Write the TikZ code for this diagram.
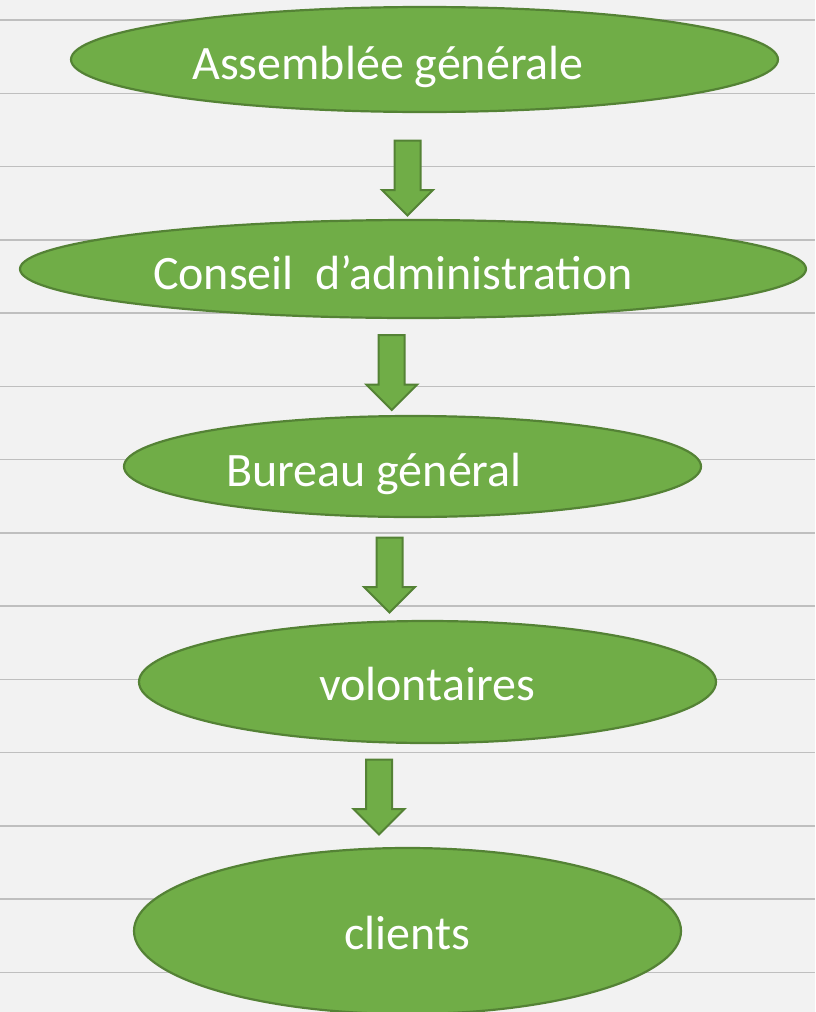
\documentclass[tikz,border=0pt]{standalone}
\usepackage{fontspec}
\setmainfont{Carlito}
\usepackage{tikz}
\usetikzlibrary{shapes.geometric, shapes.arrows}
\usepackage{color,xcolor}
\definecolor{vert}{HTML}{70AD47}
\definecolor{vertfonce}{HTML}{548235}
\definecolor{fond}{HTML}{F2F2F2}
\definecolor{trait}{HTML}{BFBFBF}

\begin{document}
\begin{tikzpicture}[x=1pt,y=-1pt,
    bulle/.style={ellipse, draw=vertfonce, fill=vert, line width=2.2pt, inner sep=0pt},
    texte/.style={text=white, anchor=base, font=\fontsize{48}{57}\selectfont, inner sep=0pt},
    fleche/.style={single arrow, draw=vertfonce, fill=vert, line width=2pt, rotate=-90,
        inner xsep=0pt, inner ysep=12pt, single arrow head extend=12.5pt, minimum height=75pt}]
    \useasboundingbox (0,0) rectangle (815,1012);
    \clip (0,0) rectangle (815,1012);
    \fill[fond] (0,0) rectangle (815,1012);
    % lignes du fond
    \foreach \k in {0,...,13}
        \draw[trait, line width=1.5pt] (0,{20+73.25*\k}) -- (815,{20+73.25*\k});
    % ellipses
    \node[bulle, minimum width=707pt, minimum height=105pt] (ag) at (424.5,59.5) {};
    \node[bulle, minimum width=786pt, minimum height=98pt] (ca) at (413,269) {};
    \node[bulle, minimum width=577pt, minimum height=101pt] (bg) at (412.5,466.5) {};
    \node[bulle, minimum width=577pt, minimum height=122pt] (vo) at (427.5,682) {};
    \node[bulle, minimum width=547pt, minimum height=166pt] (cl) at (407.5,931) {};
    % textes
    \node[texte] (tag) at (388,79) {Assemblée générale};
    \node[texte] (tca) at (393,289) {Conseil~~d’administration};
    \node[texte] (tbg) at (374,486) {Bureau général};
    \node[texte] (tvo) at (427,700) {volontaires};
    \node[texte] (tcl) at (407,949) {clients};
    % fleches
    \node[fleche] (f1) at (407.5,171.5) {};
    \node[fleche] (f2) at (391.7,366) {};
    \node[fleche] (f3) at (389.5,568.5) {};
    \node[fleche] (f4) at (379,790.5) {};
\end{tikzpicture}
\end{document}
